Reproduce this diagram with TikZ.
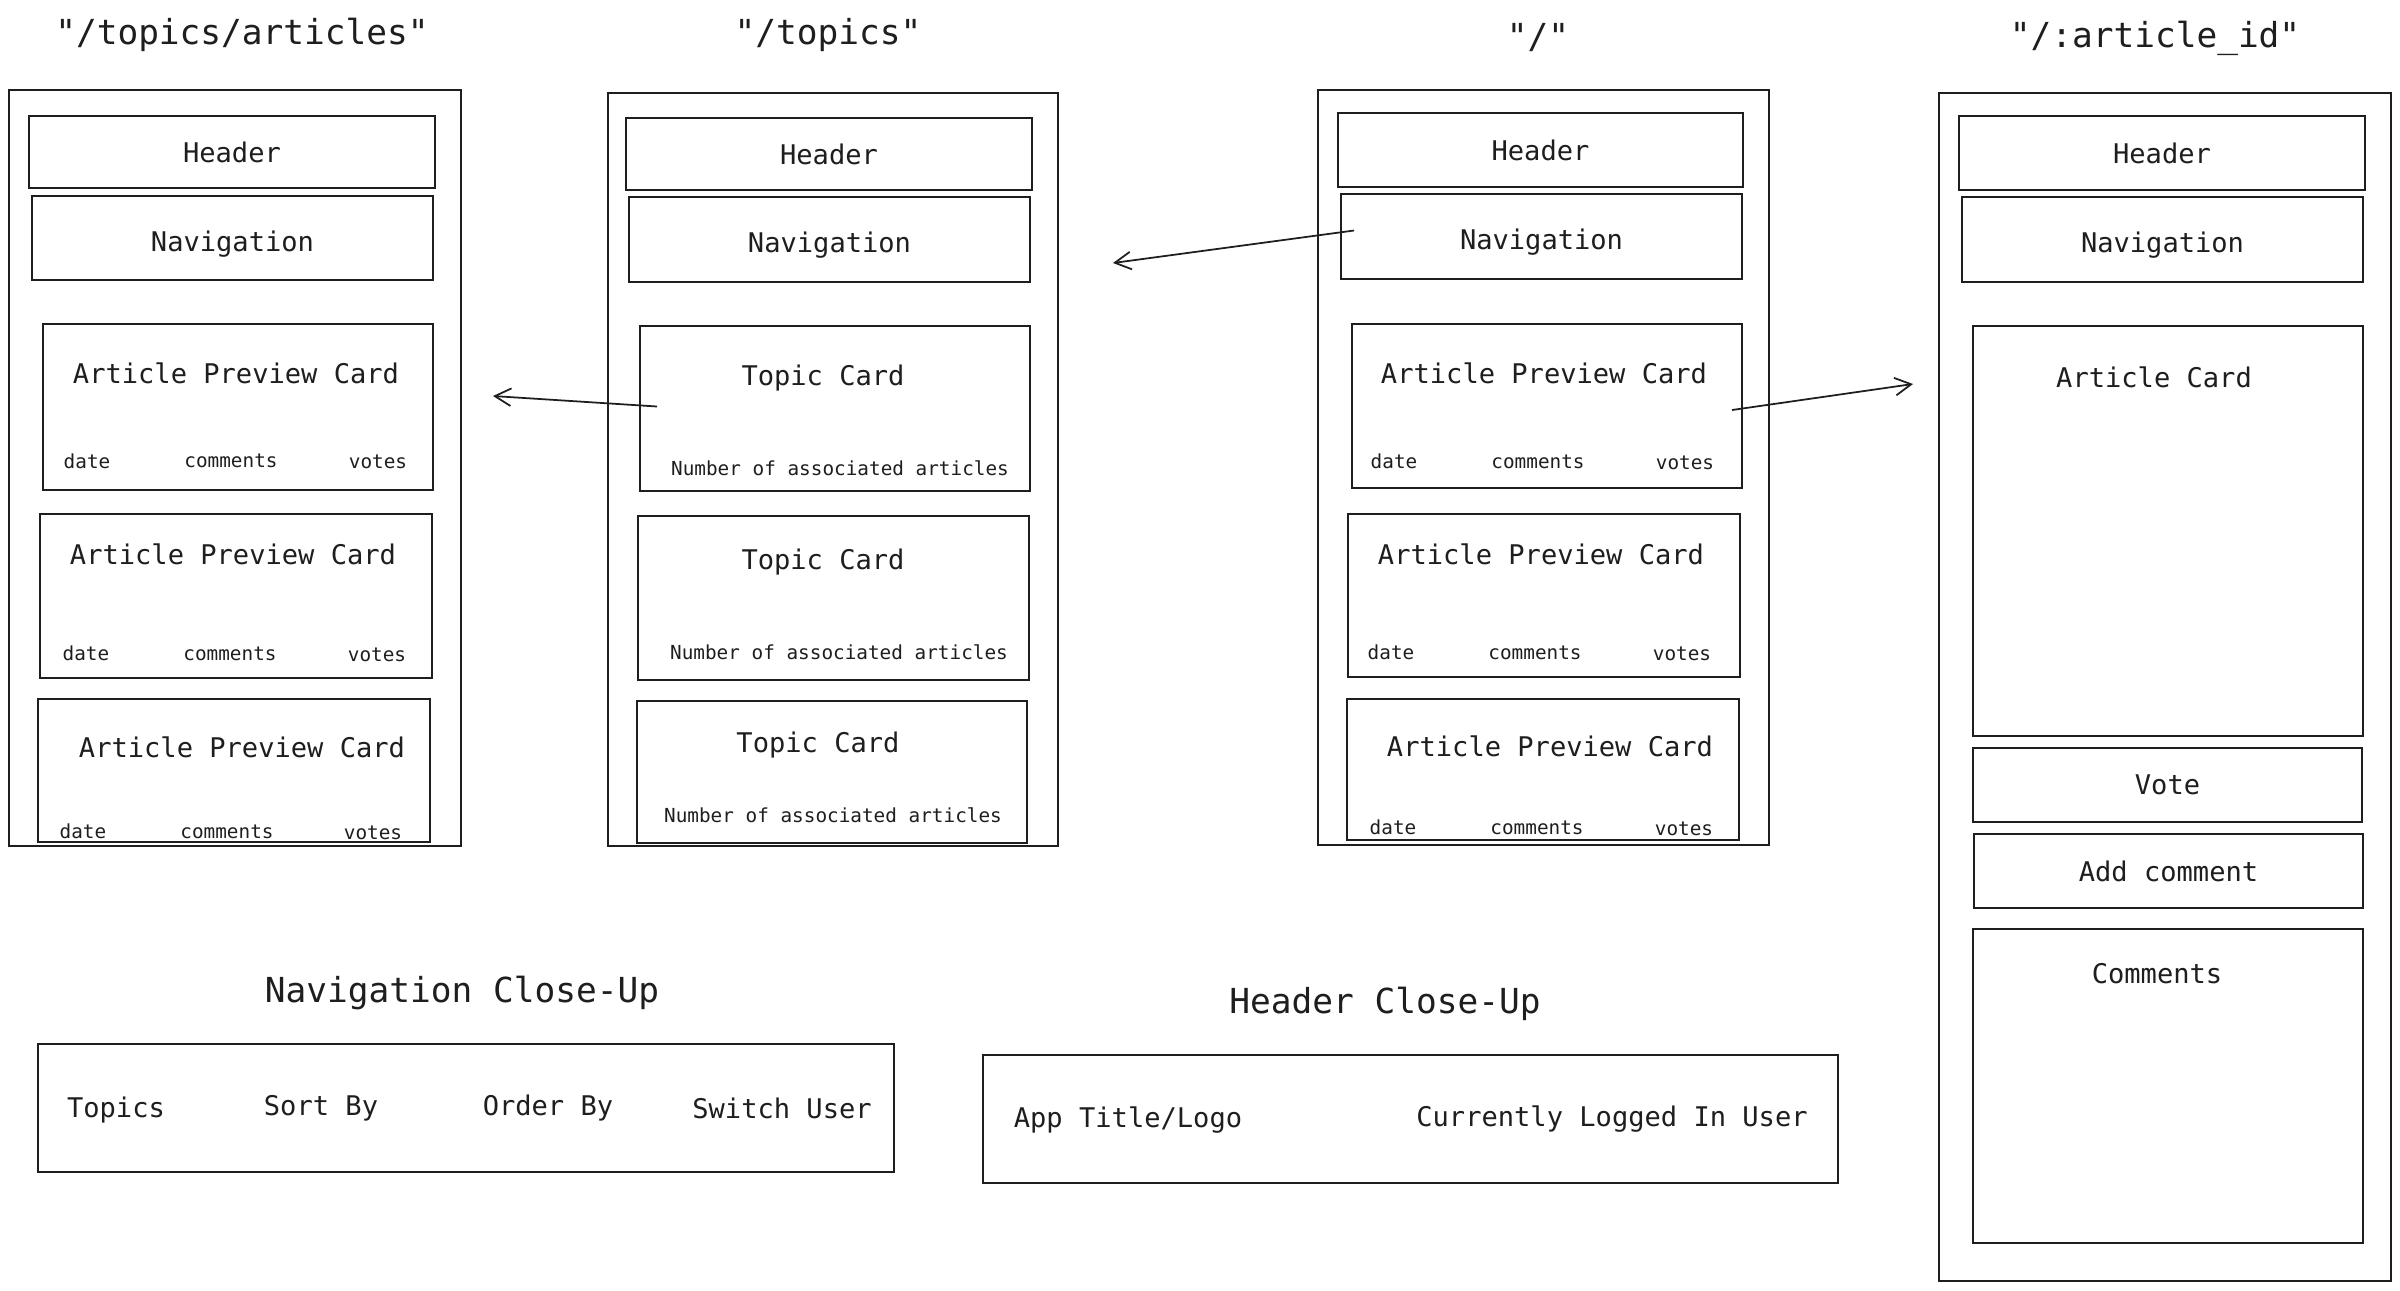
\documentclass[tikz,border=0pt]{standalone}
\usepackage{fontspec}
\setmonofont{DejaVu Sans Mono}
\usetikzlibrary{positioning, arrows.meta, fit, calc}
\definecolor{inkgray}{HTML}{1E1E1E}

\begin{document}
\begin{tikzpicture}[x=0.01cm, y=-0.01cm, >={Straight Barb[length=4.6pt, width=5pt]},
    every node/.style={text=inkgray},
    box/.style={draw=inkgray, line width=0.55pt, inner sep=0pt},
    titletext/.style={font=\ttfamily\fontsize{9.8}{12}\selectfont},
    boxtext/.style={font=\ttfamily\fontsize{7.7}{9}\selectfont},
    smalltext/.style={font=\ttfamily\fontsize{5.5}{7}\selectfont},
    link/.style={->, draw=inkgray, line width=0.5pt}]
  \useasboundingbox (0,0) rectangle (2400,1290);

  % page titles
  \node[titletext] (tA) at (242,35)  {"/topics/articles"};
  \node[titletext] (tB) at (828,35)  {"/topics"};
  \node[titletext] (tC) at (1538,38) {"/"};
  \node[titletext] (tD) at (2155,38) {"/:article\_id"};

  % "/topics/articles"
  \node[box, fit={(9,90) (461,846)}] (outA) {};
  \node[box, fit={(29,116) (435,188)}]  (hdA) {};
  \node[boxtext] at (hdA) {Header};
  \node[box, fit={(32,196) (433,280)}]  (nvA) {};
  \node[boxtext] at ($(nvA)+(0,6)$) {Navigation};
  \node[box, fit={(43,324) (433,490)}]  (apA1) {};
  \node[boxtext]   at (236,373) {Article Preview Card};
  \node[smalltext] at (87,461)  {date};
  \node[smalltext] at (231,461) {comments};
  \node[smalltext] at (378,462) {votes};
  \node[box, fit={(40,514) (432,678)}]  (apA2) {};
  \node[boxtext]   at (233,554) {Article Preview Card};
  \node[smalltext] at (86,653)  {date};
  \node[smalltext] at (230,654) {comments};
  \node[smalltext] at (377,655) {votes};
  \node[box, fit={(38,699) (430,842)}]  (apA3) {};
  \node[boxtext]   at (242,747) {Article Preview Card};
  \node[smalltext] at (83,831)  {date};
  \node[smalltext] at (227,832) {comments};
  \node[smalltext] at (373,833) {votes};

  % "/topics"
  \node[box, fit={(608,93) (1058,846)}] (outB) {};
  \node[box, fit={(626,118) (1032,190)}] (hdB) {};
  \node[boxtext] at (hdB) {Header};
  \node[box, fit={(629,197) (1030,282)}] (nvB) {};
  \node[boxtext] at ($(nvB)+(0,6)$) {Navigation};
  \node[box, fit={(640,326) (1030,491)}] (tcB1) {};
  \node[boxtext]   at (823,378) {Topic Card};
  \node[smalltext] at (840,468) {Number of associated articles};
  \node[box, fit={(638,516) (1029,680)}] (tcB2) {};
  \node[boxtext]   at (823,562) {Topic Card};
  \node[smalltext] at (839,652) {Number of associated articles};
  \node[box, fit={(637,701) (1027,843)}] (tcB3) {};
  \node[boxtext]   at (818,745) {Topic Card};
  \node[smalltext] at (833,815) {Number of associated articles};

  % "/"
  \node[box, fit={(1318,90) (1769,845)}] (outC) {};
  \node[box, fit={(1338,113) (1743,187)}] (hdC) {};
  \node[boxtext] at (hdC) {Header};
  \node[box, fit={(1341,194) (1742,279)}] (nvC) {};
  \node[boxtext] at ($(nvC)+(0,6)$) {Navigation};
  \node[box, fit={(1352,324) (1742,488)}] (apC1) {};
  \node[boxtext]   at (1544,373) {Article Preview Card};
  \node[smalltext] at (1394,461) {date};
  \node[smalltext] at (1538,462) {comments};
  \node[smalltext] at (1685,463) {votes};
  \node[box, fit={(1348,514) (1740,677)}] (apC2) {};
  \node[boxtext]   at (1541,554) {Article Preview Card};
  \node[smalltext] at (1391,652) {date};
  \node[smalltext] at (1535,653) {comments};
  \node[smalltext] at (1682,654) {votes};
  \node[box, fit={(1347,699) (1739,840)}] (apC3) {};
  \node[boxtext]   at (1550,746) {Article Preview Card};
  \node[smalltext] at (1393,827) {date};
  \node[smalltext] at (1537,828) {comments};
  \node[smalltext] at (1684,829) {votes};

  % "/:article_id"
  \node[box, fit={(1939,93) (2391,1281)}] (outD) {};
  \node[box, fit={(1959,116) (2365,190)}] (hdD) {};
  \node[boxtext] at (hdD) {Header};
  \node[box, fit={(1962,197) (2363,282)}] (nvD) {};
  \node[boxtext] at ($(nvD)+(0,6)$) {Navigation};
  \node[box, fit={(1973,326) (2363,736)}] (acD) {};
  \node[boxtext] at (2154,377) {Article Card};
  \node[box, fit={(1973,748) (2362,822)}] (voD) {};
  \node[boxtext] at (voD) {Vote};
  \node[box, fit={(1974,834) (2363,908)}] (adD) {};
  \node[boxtext] at (adD) {Add comment};
  \node[box, fit={(1973,929) (2363,1243)}] (cmD) {};
  \node[boxtext] at (2157,974) {Comments};

  % close-ups
  \node[titletext] (tNav) at (462,993) {Navigation Close-Up};
  \node[box, fit={(38,1044) (894,1172)}] (nvZoom) {};
  \node[boxtext] at (116,1110) {Topics};
  \node[boxtext] at (321,1108) {Sort By};
  \node[boxtext] at (548,1108) {Order By};
  \node[boxtext] at (782,1108) {Switch User};
  \node[titletext] (tHdr) at (1385,1004) {Header Close-Up};
  \node[box, fit={(983,1055) (1838,1183)}] (hdZoom) {};
  \node[boxtext] at (1128,1120) {App Title/Logo};
  \node[boxtext] at (1612,1119) {Currently Logged In User};

  % links between pages
  \coordinate (toTopics)   at (1113,263);
  \coordinate (toArticles) at (493,396);
  \coordinate (toArticle)  at (1913,384);
  \draw[link] ($(nvC.west)+(14,-6)$)  -- (toTopics);
  \draw[link] ($(tcB1.west)+(18,-2)$) -- (toArticles);
  \draw[link] ($(apC1.east)+(-11,4)$) -- (toArticle);
\end{tikzpicture}
\end{document}
